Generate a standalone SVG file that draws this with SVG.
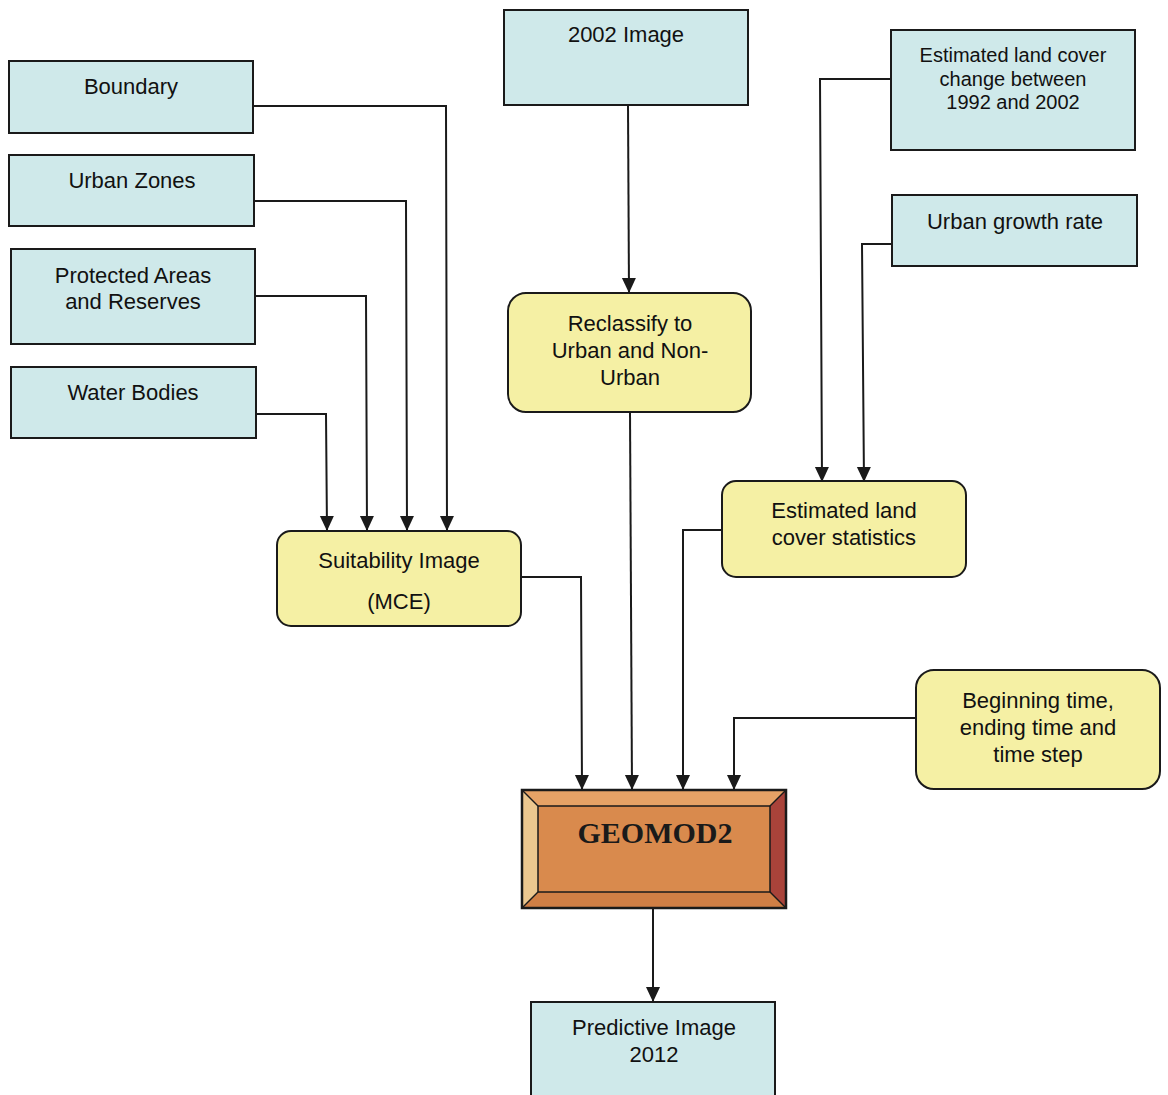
<svg xmlns="http://www.w3.org/2000/svg" width="1168" height="1095" viewBox="0 0 1168 1095">
<style>
.b{fill:#cfe9ea;stroke:#1a1a1a;stroke-width:2}
.y{fill:#f5f0a4;stroke:#1a1a1a;stroke-width:2}
.t{font-family:"Liberation Sans",Arial,sans-serif;font-size:22px;fill:#111111;text-anchor:middle}
.c{fill:none;stroke:#1a1a1a;stroke-width:2}
</style>
<defs>
<marker id="ah" markerWidth="16" markerHeight="16" refX="15" refY="7" orient="auto" markerUnits="userSpaceOnUse" viewBox="0 0 16 14">
<path d="M0,0 L15,7 L0,14 Z" fill="#1a1a1a"/>
</marker>
</defs>
<rect width="1168" height="1095" fill="#ffffff"/>
<g id="connectors">
<polyline class="c" points="253,106 446,106 447,531" marker-end="url(#ah)"/>
<polyline class="c" points="254,201 406,201 407,531" marker-end="url(#ah)"/>
<polyline class="c" points="255,296 366,296 367,531" marker-end="url(#ah)"/>
<polyline class="c" points="256,414 326,414 327,531" marker-end="url(#ah)"/>
<polyline class="c" points="628,105 629,293" marker-end="url(#ah)"/>
<polyline class="c" points="630,412 632,790" marker-end="url(#ah)"/>
<polyline class="c" points="521,577 581,577 582,790" marker-end="url(#ah)"/>
<polyline class="c" points="722,530 683,530 683,790" marker-end="url(#ah)"/>
<polyline class="c" points="916,718 734,718 734,790" marker-end="url(#ah)"/>
<polyline class="c" points="891,79 820,79 822,482" marker-end="url(#ah)"/>
<polyline class="c" points="892,244 862,244 864,482" marker-end="url(#ah)"/>
<polyline class="c" points="653,908 653,1002" marker-end="url(#ah)"/>
</g>
<g id="boundary"><rect class="b" x="9" y="61" width="244" height="72"/><text class="t" x="131" y="94">Boundary</text></g>
<g id="urban-zones"><rect class="b" x="9" y="155" width="245" height="71"/><text class="t" x="132" y="188">Urban Zones</text></g>
<g id="protected-areas"><rect class="b" x="11" y="249" width="244" height="95"/><text class="t" x="133" y="283">Protected Areas</text><text class="t" x="133" y="309">and Reserves</text></g>
<g id="water-bodies"><rect class="b" x="11" y="367" width="245" height="71"/><text class="t" x="133" y="400">Water Bodies</text></g>
<g id="image-2002"><rect class="b" x="504" y="10" width="244" height="95"/><text class="t" x="626" y="42">2002 Image</text></g>
<g id="land-cover-change"><rect class="b" x="891" y="30" width="244" height="120"/><text class="t" x="1013" y="62" style="font-size:20px">Estimated land cover</text><text class="t" x="1013" y="86" style="font-size:20px">change between</text><text class="t" x="1013" y="109" style="font-size:20px">1992 and 2002</text></g>
<g id="urban-growth-rate"><rect class="b" x="892" y="195" width="245" height="71"/><text class="t" x="1015" y="229">Urban growth rate</text></g>
<g id="reclassify"><rect class="y" x="508" y="293" width="243" height="119" rx="18"/><text class="t" x="630" y="331">Reclassify to</text><text class="t" x="630" y="358">Urban and Non-</text><text class="t" x="630" y="385">Urban</text></g>
<g id="land-cover-stats"><rect class="y" x="722" y="481" width="244" height="96" rx="14"/><text class="t" x="844" y="518">Estimated land</text><text class="t" x="844" y="545">cover statistics</text></g>
<g id="suitability"><rect class="y" x="277" y="531" width="244" height="95" rx="14"/><text class="t" x="399" y="568">Suitability Image</text><text class="t" x="399" y="609">(MCE)</text></g>
<g id="time"><rect class="y" x="916" y="670" width="244" height="119" rx="18"/><text class="t" x="1038" y="708">Beginning time,</text><text class="t" x="1038" y="735">ending time and</text><text class="t" x="1038" y="762">time step</text></g>
<g id="geomod2">
<rect x="522" y="790" width="264" height="118" fill="#d98a4d"/>
<polygon points="522,790 786,790 770,806 538,806" fill="#e6a266"/>
<polygon points="522,790 538,806 538,892 522,908" fill="#ebc78f"/>
<polygon points="786,790 786,908 770,892 770,806" fill="#a9433a"/>
<polygon points="522,908 786,908 770,892 538,892" fill="#d07f45"/>
<rect x="538" y="806" width="232" height="86" fill="#d98a4d" stroke="#1a1a1a" stroke-width="1.5"/>
<rect x="522" y="790" width="264" height="118" fill="none" stroke="#1a1a1a" stroke-width="2.5"/>
<line x1="522" y1="790" x2="538" y2="806" stroke="#1a1a1a" stroke-width="1.5"/>
<line x1="786" y1="790" x2="770" y2="806" stroke="#1a1a1a" stroke-width="1.5"/>
<line x1="522" y1="908" x2="538" y2="892" stroke="#1a1a1a" stroke-width="1.5"/>
<line x1="786" y1="908" x2="770" y2="892" stroke="#1a1a1a" stroke-width="1.5"/>
<text x="655" y="843" text-anchor="middle" style="font-family:'Liberation Serif','Times New Roman',serif;font-size:30px;font-weight:bold;fill:#1a1a1a">GEOMOD2</text>
</g>
<g id="predictive"><rect class="b" x="531" y="1002" width="244" height="100"/><text class="t" x="654" y="1035">Predictive Image</text><text class="t" x="654" y="1062">2012</text></g>
</svg>
